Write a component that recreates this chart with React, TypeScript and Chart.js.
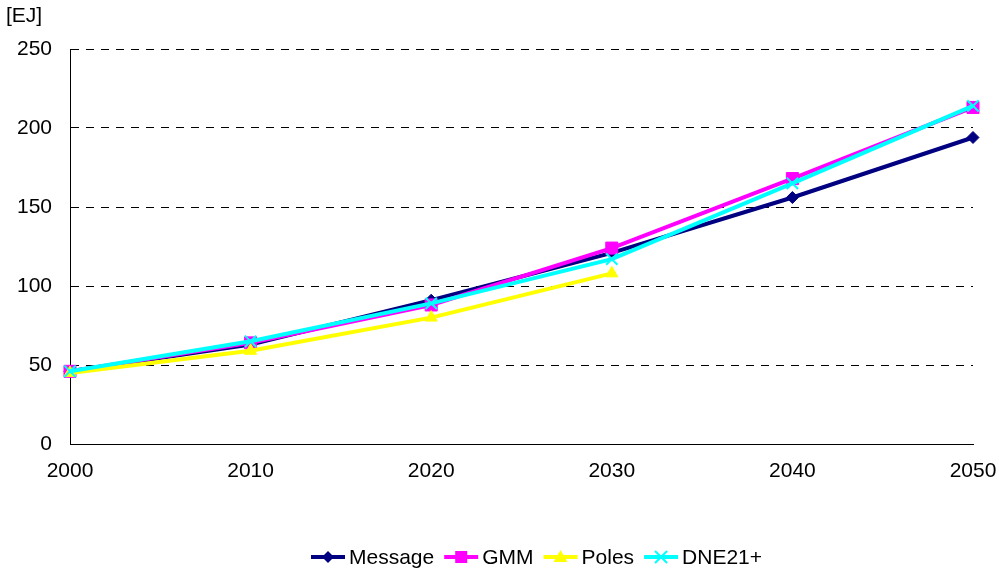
import React, { useEffect, useRef } from "react";
import { Chart, registerables } from "chart.js";

Chart.register(...registerables);

const years = ["2000", "2010", "2020", "2030", "2040", "2050"];
const message = [46, 63, 91, 121, 156, 194];
const gmm = [46, 64, 88, 124, 168, 213];
const poles = [45, 59, 80, 108, null, null];
const dne21 = [46, 65, 89, 117, 165, 214];
const yTicks = [0, 50, 100, 150, 200, 250];

const FONT = "'Liberation Sans', Arial, sans-serif";
const FS = 21;

type Series = { label: string; data: (number | null)[]; color: string; style: string };
const series: Series[] = [
  { label: "Message", data: message, color: "#000080", style: "diamond" },
  { label: "GMM", data: gmm, color: "#FF00FF", style: "square" },
  { label: "Poles", data: poles, color: "#FFFF00", style: "triangle" },
  { label: "DNE21+", data: dne21, color: "#00FFFF", style: "cross" },
];

function drawMarker(ctx: CanvasRenderingContext2D, style: string, x: number, y: number, color: string) {
  ctx.save();
  ctx.fillStyle = color;
  ctx.strokeStyle = color;
  ctx.beginPath();
  if (style === "diamond") {
    const r = 6;
    ctx.moveTo(x, y - r); ctx.lineTo(x + r, y); ctx.lineTo(x, y + r); ctx.lineTo(x - r, y); ctx.closePath(); ctx.fill();
  } else if (style === "square") {
    const r = 6;
    ctx.rect(x - r, y - r, 2 * r, 2 * r); ctx.fill();
  } else if (style === "triangle") {
    const r = 7;
    ctx.moveTo(x, y - r); ctx.lineTo(x + r, y + r * 0.7); ctx.lineTo(x - r, y + r * 0.7); ctx.closePath(); ctx.fill();
  } else {
    const r = 6;
    ctx.lineWidth = 2;
    ctx.moveTo(x - r, y - r); ctx.lineTo(x + r, y + r);
    ctx.moveTo(x + r, y - r); ctx.lineTo(x - r, y + r);
    ctx.stroke();
  }
  ctx.restore();
}

const extrasPlugin = {
  id: "extras",
  afterDraw(chart: any) {
    const ctx: CanvasRenderingContext2D = chart.ctx;
    ctx.save();
    ctx.font = `${FS}px ${FONT}`;
    ctx.fillStyle = "#000";
    ctx.textBaseline = "middle";
    ctx.textAlign = "left";
    ctx.fillText("[EJ]", 6, 16);
    // legend
    let x = 311;
    const y = 557;
    for (const s of series) {
      ctx.save();
      ctx.strokeStyle = s.color;
      ctx.lineWidth = 4;
      ctx.beginPath();
      ctx.moveTo(x, y);
      ctx.lineTo(x + 34, y);
      ctx.stroke();
      ctx.restore();
      drawMarker(ctx, s.style, x + 17, y, s.color);
      ctx.fillStyle = "#000";
      ctx.fillText(s.label, x + 38, y + 1);
      x += 38 + ctx.measureText(s.label).width + 10;
    }
    ctx.restore();
  },
};

const pointStyles: Record<string, any> = {
  diamond: { pointStyle: "rectRot", pointRadius: 6, pointBorderWidth: 1 },
  square: { pointStyle: "rect", pointRadius: 8.5, pointBorderWidth: 1 },
  triangle: { pointStyle: "triangle", pointRadius: 7, pointBorderWidth: 1 },
  cross: { pointStyle: "crossRot", pointRadius: 8, pointBorderWidth: 2 },
};

export default function App() {
  const ref = useRef<HTMLCanvasElement>(null);
  useEffect(() => {
    document.body.style.margin = "0";
    const orders = [4, 3, 2, 1];
    const chart = new Chart(ref.current!, {
      type: "line",
      data: {
        labels: years,
        datasets: series.map((s, i) => ({
          label: s.label,
          data: s.data,
          borderColor: s.color,
          backgroundColor: s.color,
          pointBackgroundColor: s.color,
          pointBorderColor: s.color,
          borderWidth: 4,
          tension: 0,
          clip: false as any,
          order: orders[i],
          spanGaps: false,
          ...pointStyles[s.style],
        })),
      },
      options: {
        animation: false,
        responsive: false,
        maintainAspectRatio: false,
        layout: { padding: { left: 0, right: 26, top: 49, bottom: 0 } },
        plugins: { legend: { display: false }, tooltip: { enabled: false } },
        scales: {
          x: {
            type: "category",
            offset: false,
            grid: { display: false, drawTicks: true, tickLength: 0 },
            border: { display: true, color: "#000", width: 1 },
            ticks: { color: "#000", font: { family: FONT, size: FS }, padding: 15, maxRotation: 0, autoSkip: false },
            afterFit(scale: any) { scale.height = 129; scale.paddingRight = 0; scale.paddingLeft = 0; },
          },
          y: {
            min: 0,
            max: 250,
            afterBuildTicks(scale: any) { scale.ticks = yTicks.map((v) => ({ value: v })); },
            grid: { color: "#000", lineWidth: 1, drawTicks: false },
            border: { display: true, color: "#000", width: 1, dash: [8, 7] },
            ticks: { color: "#000", font: { family: FONT, size: FS }, padding: 18 },
            afterFit(scale: any) { scale.width = 70; scale.paddingTop = 0; scale.paddingBottom = 0; },
          },
        },
      },
      plugins: [extrasPlugin],
    });
    return () => chart.destroy();
  }, []);
  return (
    <div style={{ position: "absolute", left: 0, top: 0, width: 999, height: 573 }}>
      <canvas ref={ref} width={999} height={573} style={{ width: 999, height: 573 }} />
    </div>
  );
}
